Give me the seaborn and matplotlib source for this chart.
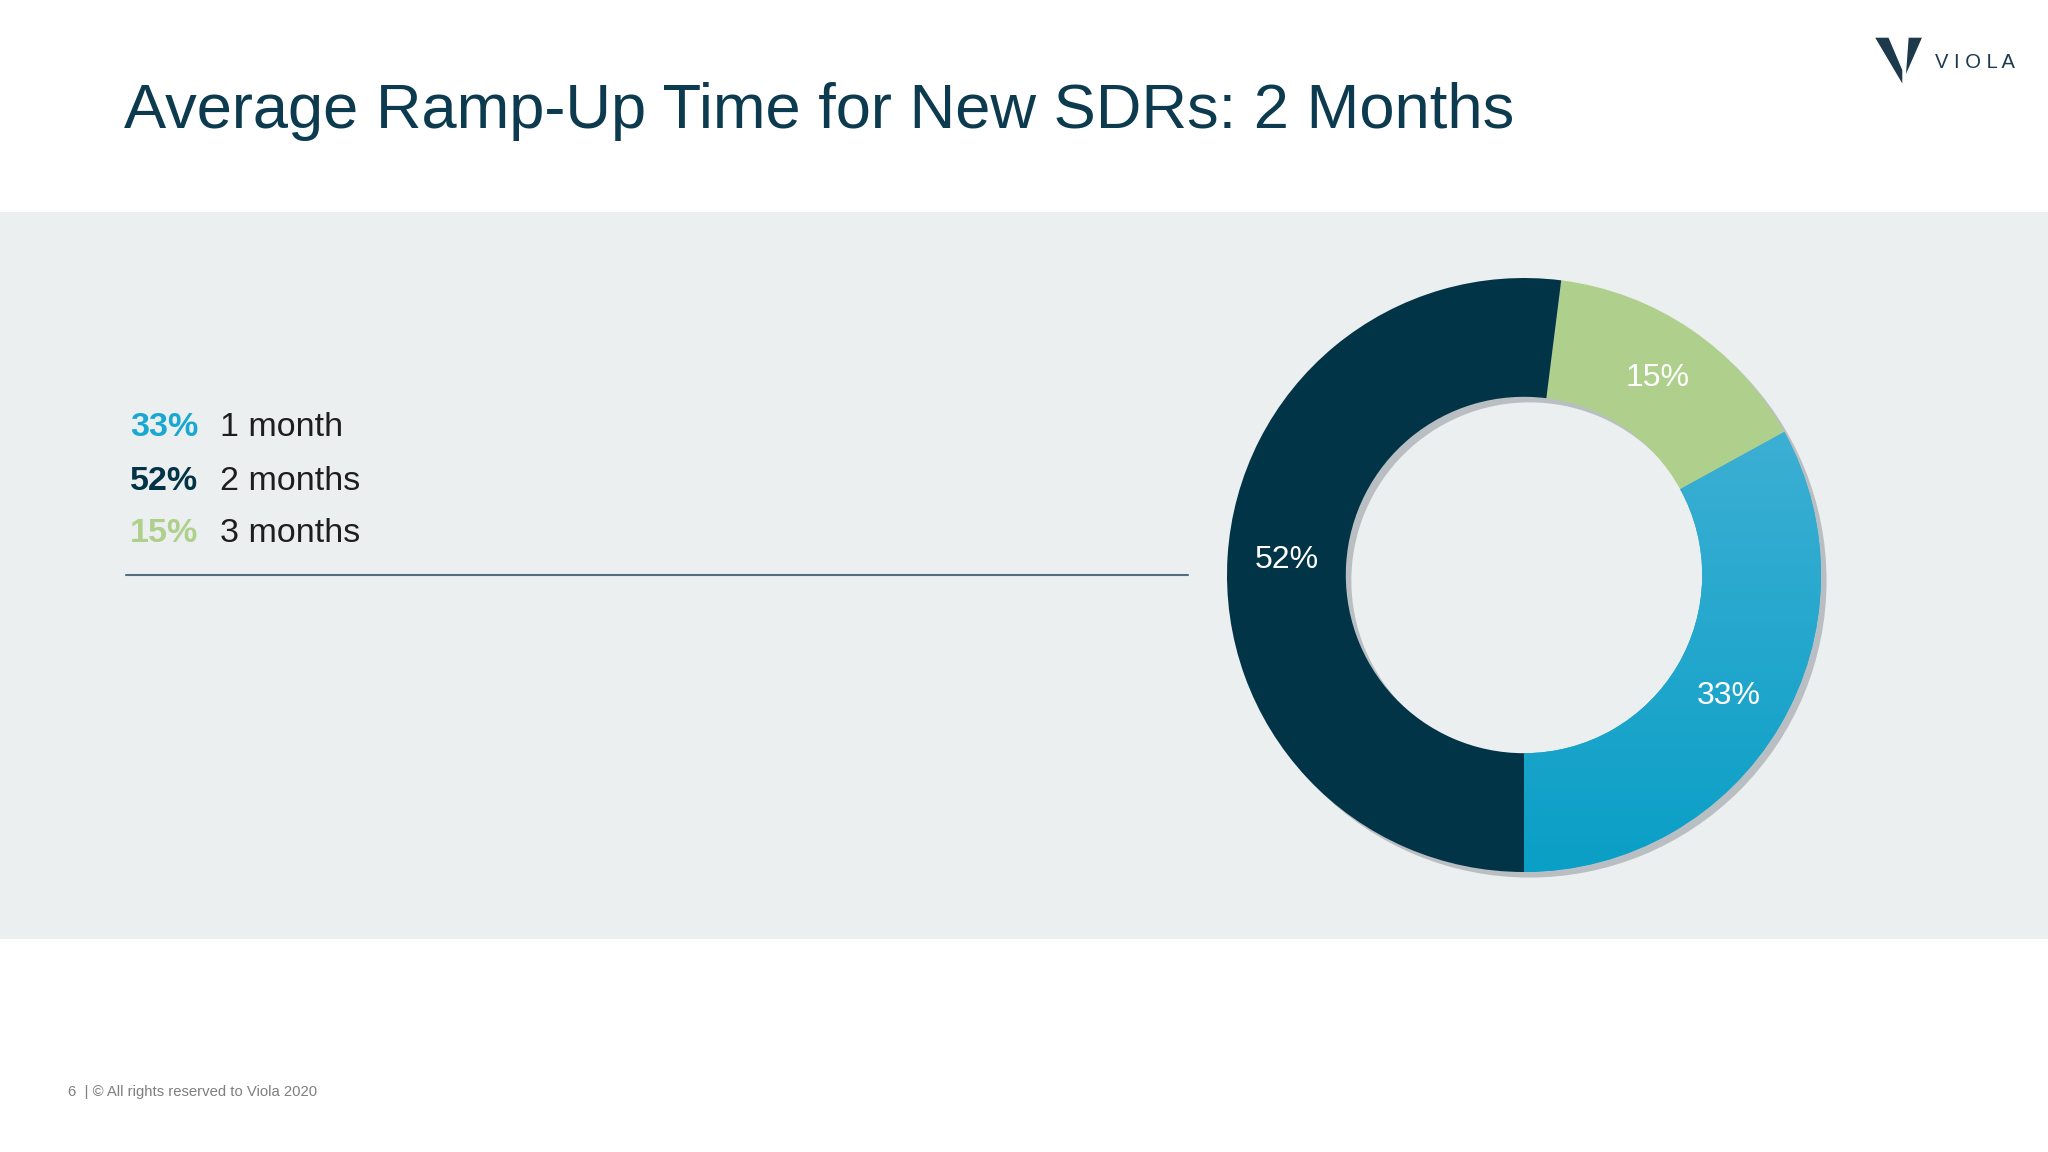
import numpy as np
import matplotlib
matplotlib.use("Agg")
import matplotlib.pyplot as plt
import matplotlib.patheffects as pe
from matplotlib.patches import Rectangle, Polygon
from matplotlib.colors import LinearSegmentedColormap
import seaborn as sns

# data
labels = ["1 month", "2 months", "3 months"]
values = [33, 52, 15]
# pie order: counterclockwise from the bottom
pie_order = [0, 2, 1]

title = "Average Ramp-Up Time for New SDRs: 2 Months"
footer = "6  | \u00a9 All rights reserved to Viola 2020"

sns.set_theme(style="white")
plt.rcParams['font.family'] = ['Liberation Sans', 'DejaVu Sans']

colors = sns.color_palette(["#18A8D1", "#023447", "#AFD08D"])
navy = "#0C3A4E"

fig = plt.figure(figsize=(20.48, 11.52), dpi=100)
fig.patch.set_facecolor("white")

# gray band
fig.patches.append(Rectangle((0, 213 / 1152), 1, 727 / 1152, transform=fig.transFigure,
                             facecolor="#ECEFF0", edgecolor="none", zorder=-5))

# title
fig.text(124 / 2048, 1 - 128 / 1152, title, fontsize=45.5, color=navy,
         ha="left", va="baseline")

# logo
fig.patches.append(Polygon([(1874 / 2048, 1 - 37 / 1152), (1889 / 2048, 1 - 37 / 1152),
                            (1903 / 2048, 1 - 70 / 1152), (1903 / 2048, 1 - 86 / 1152)],
                           closed=True, transform=fig.transFigure, facecolor="#1C3A4C", zorder=3))
fig.patches.append(Polygon([(1908 / 2048, 1 - 37 / 1152), (1923 / 2048, 1 - 37 / 1152),
                            (1905 / 2048, 1 - 78 / 1152)],
                           closed=True, transform=fig.transFigure, facecolor="#1C3A4C", zorder=3))
fig.text(1935 / 2048, 1 - 63 / 1152, "V I O L A", fontsize=14.5, color="#1C3A4C",
         ha="left", va="center")

# legend text block
row_y = [427, 481, 533]
for i, (lab, v) in enumerate(zip(labels, values)):
    y = 1 - row_y[i] / 1152
    fig.text(130 / 2048, y, f"{v}%", fontsize=24.5, fontweight="bold", color=colors[i],
             ha="left", va="center")
    fig.text(220 / 2048, y, lab, fontsize=24.5, color="#1E1E1E", ha="left", va="center")

# rule line
fig.lines.append(plt.Line2D([126 / 2048, 1188 / 2048], [1 - 575 / 1152, 1 - 575 / 1152],
                            transform=fig.transFigure, color="#4F6E80", lw=1.5))

# donut
cx, cy, r = 1524, 575, 297
ax = fig.add_axes([(cx - r) / 2048, (1152 - cy - r) / 1152, 2 * r / 2048, 2 * r / 1152])
ax.set_facecolor("none")

# shadow ring behind the whole donut
shadow, _ = ax.pie([sum(values)], colors=[colors[1]], radius=1,
                   wedgeprops=dict(width=0.4, edgecolor="none"))
shadow[0].set_zorder(0)
shadow[0].set_path_effects([pe.SimplePatchShadow(offset=(4, -4), shadow_rgbFace="#8E969B", alpha=0.55)])

pv = [values[i] for i in pie_order]
pc = [colors[i] for i in pie_order]
wedges, _, autotexts = ax.pie(pv, colors=pc, startangle=270, counterclock=True,
                              radius=1, autopct="%d%%", pctdistance=0.8,
                              wedgeprops=dict(width=0.4, edgecolor="none", zorder=2),
                              textprops=dict(color="white", fontsize=23))
for t in autotexts:
    t.set_zorder(5)

# vertical gradient on the blue wedge
grad = LinearSegmentedColormap.from_list("blu", ["#0A9FC6", "#3DAFD4"])
img = ax.imshow(np.linspace(0, 1, 256).reshape(-1, 1), cmap=grad, origin="lower",
                extent=[0, 1, -1, 0.5], aspect="auto", zorder=3)
img.set_clip_path(wedges[0])

ax.set_xlim(-1, 1)
ax.set_ylim(-1, 1)
ax.set_aspect("equal")
ax.axis("off")

# footer
fig.text(68 / 2048, 1 - 1092 / 1152, footer, fontsize=10.7, color="#7F7F7F",
         ha="left", va="center")

fig.savefig("out.png", dpi=100)
